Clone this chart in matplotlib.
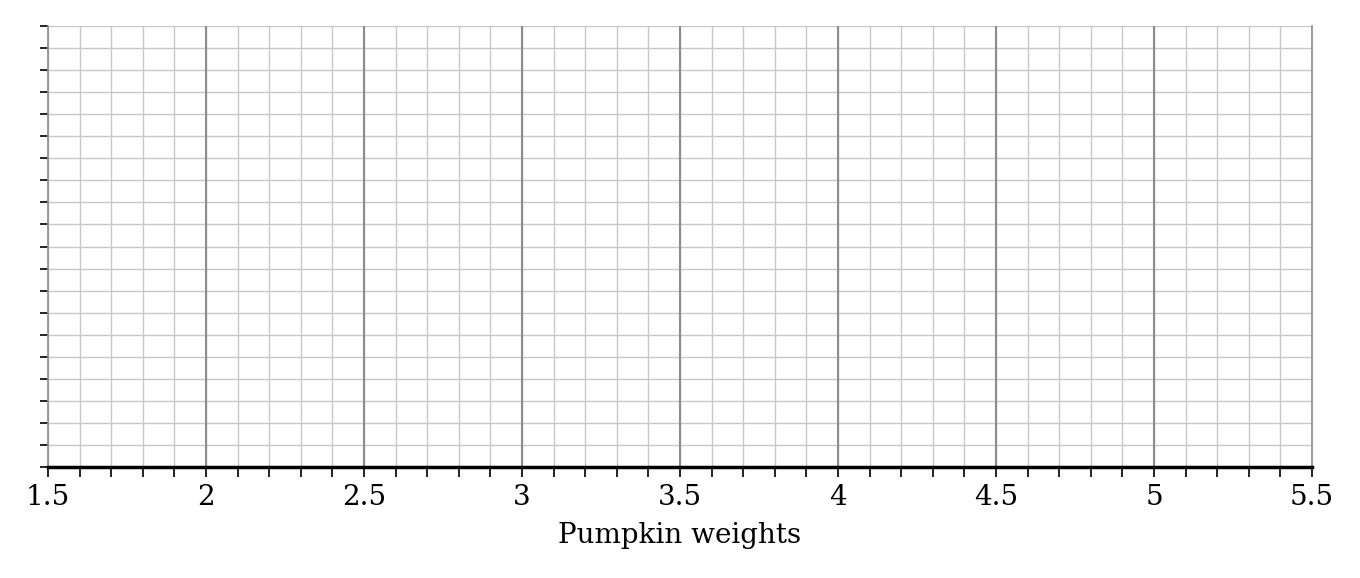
import matplotlib
matplotlib.use("Agg")
import matplotlib.pyplot as plt
import numpy as np

# axis setup (no data points are drawn)
x_major = [1.5, 2, 2.5, 3, 3.5, 4, 4.5, 5, 5.5]
x_labels = ["1.5", "2", "2.5", "3", "3.5", "4", "4.5", "5", "5.5"]
x_minor = [round(1.5 + 0.1 * i, 1) for i in range(41)]
y_ticks = list(range(0, 21))
x_title = "Pumpkin weights"


def plot_axes():
    plt.rcParams["font.family"] = ["DejaVu Serif"]
    fig = plt.figure(figsize=(13.6, 5.78), dpi=100)
    ax = fig.add_axes([48 / 1360, 111 / 578, 1264 / 1360, 441 / 578])
    ax.set_xlim(x_major[0], x_major[-1])
    ax.set_ylim(y_ticks[0], y_ticks[-1])

    for v in x_minor:
        ax.axvline(v, color="#c8c8c8", lw=1, zorder=1)
    for v in x_major[1:-1]:
        ax.axvline(v, color="#8c8c8c", lw=1.5, zorder=2)
    for v in y_ticks:
        ax.axhline(v, color="#c8c8c8", lw=1, zorder=1)

    ax.set_xticks(x_major)
    ax.set_xticklabels(x_labels, fontsize=20)
    ax.set_xticks(x_minor, minor=True)
    ax.set_yticks(y_ticks)
    ax.set_yticklabels([])
    ax.tick_params(axis="x", which="both", direction="out", length=7,
                   width=1.2, color="black", pad=5)
    ax.tick_params(axis="y", direction="out", length=6, width=1.2,
                   color="black")

    ax.spines["bottom"].set_linewidth(2.5)
    ax.spines["bottom"].set_color("black")
    ax.spines["bottom"].set_zorder(5)
    ax.spines["left"].set_color("#8c8c8c")
    ax.spines["right"].set_color("#8c8c8c")
    ax.spines["left"].set_linewidth(1.2)
    ax.spines["right"].set_linewidth(1.2)
    ax.spines["top"].set_visible(False)

    ax.set_xlabel(x_title, fontsize=20, labelpad=8)
    fig.savefig("out.png", dpi=100)


if __name__ == "__main__":
    plot_axes()
